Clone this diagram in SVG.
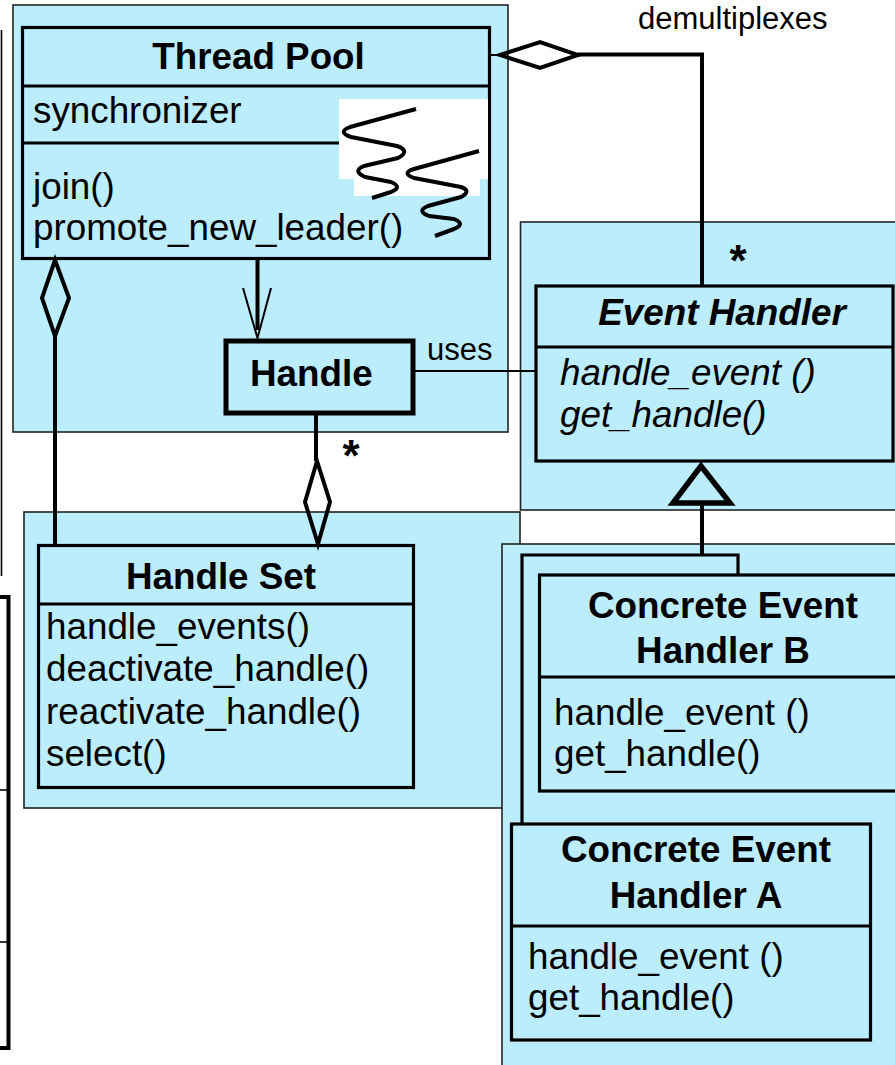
<svg xmlns="http://www.w3.org/2000/svg" width="895" height="1065" viewBox="0 0 895 1065">
  <style>
    .panel { fill: #bbedfd; stroke: #222; stroke-width: 1.6; }
    .box { fill: #bbedfd; stroke: #000; stroke-width: 3.2; }
    .sep { stroke: #000; stroke-width: 3.2; fill: none; }
    .ln { stroke: #000; stroke-width: 4; fill: none; }
    .thin { stroke: #000; stroke-width: 2; fill: none; }
    text { font-family: "Liberation Sans", Arial, sans-serif; fill: #000; }
    .title { font-size: 36.8px; font-weight: bold; text-anchor: middle; }
    .item { font-size: 36.8px; }
    .lbl { font-size: 31px; }
    .star { font-size: 44px; font-weight: bold; text-anchor: middle; }
    .it { font-style: italic; }
  </style>

  <!-- partial frames cut off at the left edge -->
  <g id="edge-frames">
    <line x1="1.5" y1="30" x2="1.5" y2="576" stroke="#000" stroke-width="1.6"/>
    <path d="M0,597 H8.5 V1048 H0" fill="none" stroke="#000" stroke-width="4"/>
    <line x1="0" y1="790" x2="8" y2="790" stroke="#000" stroke-width="1.6"/>
    <line x1="0" y1="942" x2="8" y2="942" stroke="#000" stroke-width="1.6"/>
  </g>

  <!-- background panels -->
  <g id="panels">
    <rect class="panel" x="13" y="5" width="495" height="427"/>
    <rect class="panel" x="520.5" y="222" width="380" height="288"/>
    <rect class="panel" x="24" y="512" width="496" height="296"/>
    <rect class="panel" x="502" y="544" width="400" height="530"/>
  </g>

  <!-- Thread Pool -->
  <g id="thread-pool">
    <rect class="box" x="22.5" y="27.5" width="467" height="231"/>
    <line class="sep" x1="22.5" y1="86" x2="489.5" y2="86"/>
    <line class="sep" x1="22.5" y1="143" x2="489.5" y2="143"/>
    <text class="title" x="258.5" y="69">Thread Pool</text>
    <text class="item" x="33" y="123">synchronizer</text>
    <text class="item" x="33" y="199">join()</text>
    <text class="item" x="33" y="240">promote_new_leader()</text>
    <!-- thread icon -->
    <path d="M339,99 H488 V179 H480 V196 H354 V179 H339 Z" fill="#fff"/>
    <path class="ln" stroke-linejoin="round" stroke-linecap="butt" d="M416,109 L350,127 Q337,132 351,137 L397,146 Q411,151 398,158 L364,166 Q352,171 365,177 L391,182 Q403,187 391,192 L372,198"/>
    <path class="ln" stroke-linejoin="round" d="M479,151 L414,169 Q401,173 414,178 L461,187 Q472,191 461,197 L428,206 Q416,211 429,216 L454,219 Q466,224 454,229 L435,236"/>
  </g>

  <!-- Handle -->
  <g id="handle">
    <rect x="226" y="341" width="187" height="72" fill="#bbedfd" stroke="#000" stroke-width="5"/>
    <text class="item" x="250" y="386" font-weight="bold">Handle</text>
  </g>

  <!-- Event Handler -->
  <g id="event-handler">
    <rect class="box" x="536" y="286" width="357" height="175"/>
    <line class="sep" x1="536" y1="347" x2="893" y2="347"/>
    <text class="title it" x="722" y="325">Event Handler</text>
    <text class="item it" x="560" y="385">handle_event ()</text>
    <text class="item it" x="560" y="427">get_handle()</text>
  </g>

  <!-- Handle Set -->
  <g id="handle-set">
    <rect class="box" x="38.5" y="545.5" width="375" height="242"/>
    <line class="sep" x1="38.5" y1="604" x2="413.5" y2="604"/>
    <text class="title" x="221" y="589">Handle Set</text>
    <text class="item" x="46" y="639">handle_events()</text>
    <text class="item" x="46" y="681">deactivate_handle()</text>
    <text class="item" x="46" y="724">reactivate_handle()</text>
    <text class="item" x="46" y="766">select()</text>
  </g>

  <!-- Concrete Event Handler B (stacked instances) -->
  <g id="concrete-b">
    <path class="sep" d="M522,823 V555 H738 V575"/>
    <rect class="box" x="539.5" y="575" width="360" height="216"/>
    <line class="sep" x1="539.5" y1="677" x2="895" y2="677"/>
    <text class="title" x="723" y="618">Concrete Event</text>
    <text class="title" x="723" y="663">Handler B</text>
    <text class="item" x="554" y="725">handle_event ()</text>
    <text class="item" x="554" y="766">get_handle()</text>
  </g>

  <!-- Concrete Event Handler A -->
  <g id="concrete-a">
    <rect class="box" x="511.5" y="824" width="359" height="216"/>
    <line class="sep" x1="511.5" y1="926" x2="870.5" y2="926"/>
    <text class="title" x="696" y="862">Concrete Event</text>
    <text class="title" x="696" y="908">Handler A</text>
    <text class="item" x="528" y="969">handle_event ()</text>
    <text class="item" x="528" y="1010">get_handle()</text>
  </g>

  <!-- connectors -->
  <g id="connectors">
    <!-- Thread Pool demultiplexes Event Handlers -->
    <line class="thin" x1="490" y1="55" x2="500" y2="55"/>
    <path class="ln" stroke-width="3.5" d="M500,55 L540,42 L578,55 L540,68 Z" fill="#fff"/>
    <path class="ln" d="M578,54.5 H702 V287"/>
    <text class="lbl" x="638" y="29">demultiplexes</text>
    <text class="star" x="738" y="276">*</text>

    <!-- Thread Pool navigates to Handle -->
    <line class="ln" stroke-width="5" x1="257.5" y1="259" x2="257.5" y2="330"/>
    <path class="thin" stroke-width="3" d="M243,288 L257.5,338 L271,288"/>

    <!-- Thread Pool aggregated with Handle Set -->
    <path class="ln" stroke-width="3.5" d="M55,260 L42,298 L55,336 L69,298 Z" fill="#bbedfd"/>
    <line class="ln" stroke-width="3.5" x1="55" y1="336" x2="55" y2="546"/>

    <!-- Handle Set holds Handles -->
    <line class="ln" stroke-width="3.5" x1="316" y1="413" x2="316" y2="461"/>
    <path class="ln" stroke-width="3.5" d="M317,461 L305,502 L318,544 L330,502 Z" fill="none"/>
    <text class="star" x="351" y="471">*</text>

    <!-- Handle used by Event Handler -->
    <line class="thin" x1="413" y1="371" x2="536" y2="371"/>
    <text class="lbl" x="427" y="360">uses</text>

    <!-- Concrete handlers generalise Event Handler -->
    <line class="ln" stroke-width="4.5" x1="702" y1="504" x2="702" y2="555"/>
    <path d="M701,466 L673,503 H730 Z" fill="none" stroke="#000" stroke-width="5.5" stroke-linejoin="miter"/>
  </g>
</svg>
